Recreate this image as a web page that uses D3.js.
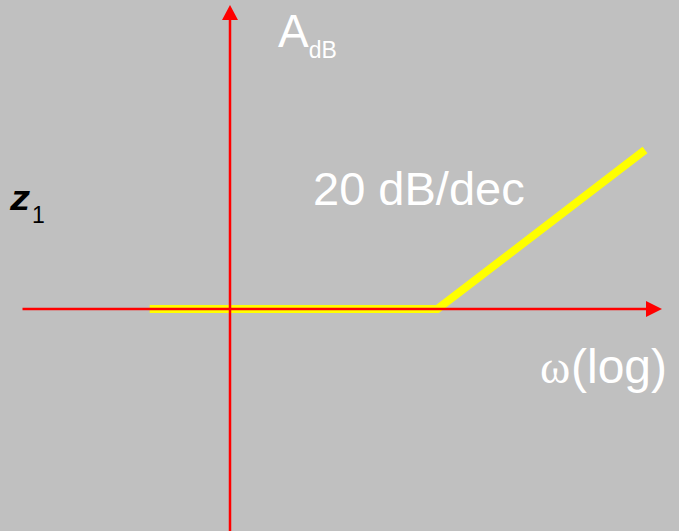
<!DOCTYPE html>
<html>
<head>
<meta charset="utf-8">
<script src="https://cdn.jsdelivr.net/npm/d3@7"></script>
<style>
  html, body { margin: 0; padding: 0; background: #c0c0c0; }
  svg { display: block; }
</style>
</head>
<body>
<div id="chart"></div>
<script>
// asymptotic Bode magnitude for a single zero z1
const omega = [0.41, 10, 100];   // rad/s (log axis)
const gainDb = [0, 0, 20];       // dB
const slopeLabel = "20 dB/dec";

const width = 679, height = 531;

// scales: one decade ~ 207px, 20 dB ~ 159px
const x = d3.scaleLog().domain([0.1, 100]).range([22.5, 645]);
const y = d3.scaleLinear().domain([0, 20]).range([309, 150]);

const svg = d3.select("#chart").append("svg")
  .attr("width", width)
  .attr("height", height);

svg.append("rect")
  .attr("width", width).attr("height", height)
  .attr("fill", "#c0c0c0");

const axisColor = "#ff0000";

// ------------------------------------------------------
// yellow asymptote
// ------------------------------------------------------
const pts = omega.map((w, i) => [x(w), y(gainDb[i])]);

svg.append("path")
  .attr("d", d3.line()(pts))
  .attr("fill", "none")
  .attr("stroke", "#ffff00")
  .attr("stroke-width", 8)
  .attr("stroke-linecap", "butt")
  .attr("stroke-linejoin", "miter");

// ------------------------------------------------------
// axes with arrow heads
// ------------------------------------------------------
const x0 = x(1);        // vertical axis at omega = 1
const y0 = y(0);

svg.append("line")
  .attr("x1", x(0.1)).attr("x2", 648)
  .attr("y1", y0).attr("y2", y0)
  .attr("stroke", axisColor)
  .attr("stroke-width", 2.5);

svg.append("path")
  .attr("d", `M662,${y0} L646,${y0 - 8} L646,${y0 + 8} Z`)
  .attr("fill", axisColor);

svg.append("line")
  .attr("x1", x0).attr("x2", x0)
  .attr("y1", height).attr("y2", 18)
  .attr("stroke", axisColor)
  .attr("stroke-width", 2.5);

svg.append("path")
  .attr("d", `M${x0},5 L${x0 - 8},20 L${x0 + 8},20 Z`)
  .attr("fill", axisColor);

// ------------------------------------------------------
// labels
// ------------------------------------------------------
const font = "'Liberation Sans', Arial, sans-serif";
const serif = "'Liberation Serif', 'Times New Roman', serif";

const aLabel = svg.append("text")
  .attr("x", 278).attr("y", 47)
  .attr("font-family", font)
  .attr("font-size", 46)
  .attr("fill", "#ffffff");
aLabel.append("tspan").text("A");
aLabel.append("tspan")
  .attr("font-size", 23)
  .attr("dy", 11)
  .text("dB");

svg.append("text")
  .attr("x", 313).attr("y", 205)
  .attr("font-family", font)
  .attr("font-size", 47)
  .attr("fill", "#ffffff")
  .text(slopeLabel);

// omega axis label: serif omega + sans "(log)"
svg.append("text")
  .attr("x", 540).attr("y", 383)
  .attr("font-family", serif)
  .attr("font-size", 46)
  .attr("fill", "#ffffff")
  .text("ω");

svg.append("text")
  .attr("x", 571).attr("y", 383)
  .attr("font-family", font)
  .attr("font-size", 48)
  .attr("fill", "#ffffff")
  .text("(log)");

// z1 label
svg.append("text")
  .attr("transform", "translate(10,210) scale(1.12,1)")
  .attr("font-family", font)
  .attr("font-size", 36)
  .attr("font-style", "italic")
  .attr("font-weight", "bold")
  .attr("fill", "#000000")
  .text("z");

svg.append("text")
  .attr("x", 32).attr("y", 223)
  .attr("font-family", font)
  .attr("font-size", 23)
  .attr("fill", "#000000")
  .text("1");
</script>
</body>
</html>
